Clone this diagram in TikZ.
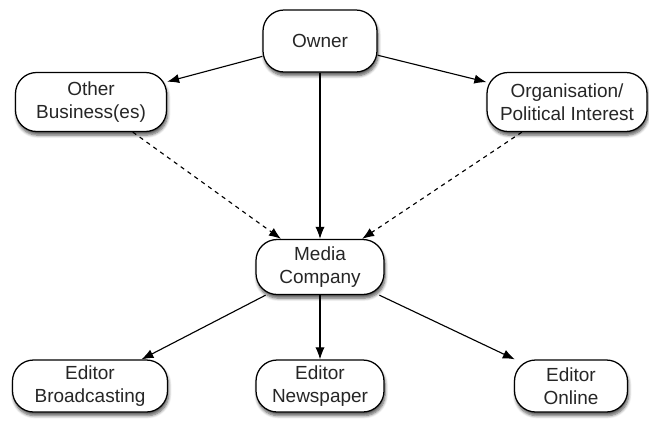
\documentclass[tikz,border=0pt]{standalone}
\usepackage{fontspec}
\setmainfont{Liberation Sans}
\usetikzlibrary{arrows.meta,shadows.blur}
\begin{document}
\begin{tikzpicture}[
    box/.style = {draw, line width = .9, fill = white, rounded corners = 15pt, align = center,
        inner sep = 0pt, font = \fontsize{13.5}{16.5}\selectfont, text = black!85,
        blur shadow = {shadow xshift = .8pt, shadow yshift = -2.6pt, shadow blur steps = 6, shadow opacity = 65}},
    link/.style = {line width = .8, -{Latex[length = 3mm, width = 2.3mm]}}
    ]
    \useasboundingbox (0, 0) rectangle (16.225, 10.55);
    \node [box, minimum width = 2.85cm, minimum height = 1.55cm] (owner) at (8, 9.525) {Owner};
    \node [box, minimum width = 3.775cm, minimum height = 1.475cm] (other) at (2.275, 8) {Other\\Business(es)};
    \node [box, minimum width = 4cm, minimum height = 1.475cm] (org) at (14.175, 8) {Organisation/\\Political Interest};
    \node [box, minimum width = 3.2cm, minimum height = 1.375cm] (media) at (8, 3.875) {Media\\Company};
    \node [box, minimum width = 3.875cm, minimum height = 1.3cm] (broad) at (2.25, .9) {Editor\\Broadcasting};
    \node [box, minimum width = 3.2cm, minimum height = 1.3cm] (news) at (8, .9) {Editor\\Newspaper};
    \node [box, minimum width = 2.825cm, minimum height = 1.3cm] (online) at (14.275, .9) {Editor\\Online};
    \draw [link] (owner) -- (other);
    \draw [link] (owner) -- (org);
    \draw [link] (owner) -- (media);
    \draw [link, dashed] (other) -- (media);
    \draw [link, dashed] (org) -- (media);
    \draw [link] (media) -- (broad);
    \draw [link] (media) -- (news);
    \draw [link] (media) -- (online);
\end{tikzpicture}
\end{document}
